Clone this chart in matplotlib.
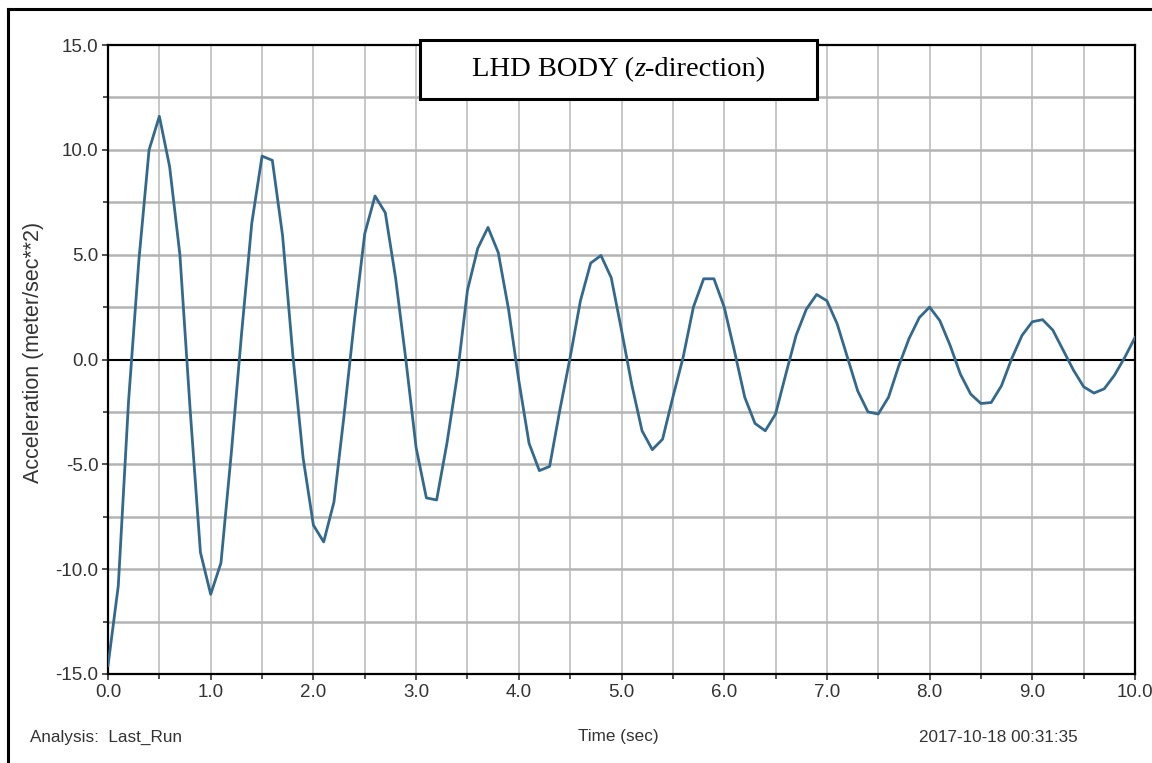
import matplotlib
matplotlib.use("Agg")
import matplotlib.pyplot as plt
from matplotlib.patches import Rectangle
from matplotlib.lines import Line2D

# ---- data ----
time_s = [round(0.1 * i, 1) for i in range(101)]
accel = [
    -14.6, -10.8, -2.0, 4.7, 10.0, 11.6, 9.2, 5.0, -2.4, -9.2,
    -11.2, -9.7, -4.5, 1.2, 6.5, 9.7, 9.5, 5.9, 0.2, -4.7,
    -7.9, -8.7, -6.8, -2.6, 1.9, 6.0, 7.8, 7.0, 3.9, 0.0,
    -4.2, -6.6, -6.7, -4.0, -0.8, 3.3, 5.3, 6.3, 5.1, 2.4,
    -1.0, -4.0, -5.3, -5.1, -2.4, 0.1, 2.8, 4.6, 4.96, 3.9,
    1.4, -1.2, -3.4, -4.3, -3.8, -1.8, 0.1, 2.5, 3.85, 3.85,
    2.5, 0.4, -1.8, -3.05, -3.4, -2.6, -0.7, 1.15, 2.4, 3.1,
    2.8, 1.7, 0.1, -1.5, -2.5, -2.6, -1.8, -0.3, 1.0, 2.0,
    2.5, 1.85, 0.67, -0.7, -1.65, -2.1, -2.05, -1.25, 0.05, 1.15,
    1.8, 1.9, 1.4, 0.45, -0.5, -1.3, -1.6, -1.4, -0.75, 0.1,
    1.05,
]
x_major = [0.0, 1.0, 2.0, 3.0, 4.0, 5.0, 6.0, 7.0, 8.0, 9.0, 10.0]
x_labels = ["0.0", "1.0", "2.0", "3.0", "4.0", "5.0", "6.0", "7.0", "8.0", "9.0", "10.0"]
y_major = [-15.0, -10.0, -5.0, 0.0, 5.0, 10.0, 15.0]
y_labels = ["-15.0", "-10.0", "-5.0", "0.0", "5.0", "10.0", "15.0"]
title_parts = ["LHD BODY (", "z", "-direction)"]
ylabel_text = "Acceleration (meter/sec**2)"
xlabel_text = "Time (sec)"
analysis_text = "Analysis:  Last_Run"
stamp_text = "2017-10-18 00:31:35"

W, H = 1152, 763
fig = plt.figure(figsize=(W / 100, H / 100), dpi=100)
fig.patch.set_facecolor("white")

sans = ["Liberation Sans", "DejaVu Sans"]
txt_col = "#333333"

ax_l, ax_r, ax_t, ax_b = 108, 1135, 45, 674
ax = fig.add_axes([ax_l / W, 1 - ax_b / H, (ax_r - ax_l) / W, (ax_b - ax_t) / H])
ax.set_xlim(0, 10)
ax.set_ylim(-15, 15)

# grid
for gx in [0.5 * i for i in range(1, 20)]:
    ax.axvline(gx, color="#b8b8b8", lw=1.1, zorder=1)
for gy in [2.5 * i for i in range(-5, 6)]:
    if gy == 0:
        continue
    ax.axhline(gy, color="#b4b4b4", lw=1.8, zorder=1)
ax.axhline(0, color="black", lw=1.5, zorder=2)

ax.plot(time_s, accel, color="#33698d", lw=2.0, zorder=3)

for s in ax.spines.values():
    s.set_color("black")
    s.set_linewidth(1.6)

ax.set_xticks(x_major)
ax.set_xticklabels(x_labels)
ax.set_xticks([0.5 + i for i in range(10)], minor=True)
ax.set_yticks(y_major)
ax.set_yticklabels(y_labels)
ax.set_yticks([-12.5, -7.5, -2.5, 2.5, 7.5, 12.5], minor=True)
ax.tick_params(axis="both", which="both", direction="out", length=4, width=1.2,
               colors=txt_col, labelcolor=txt_col, labelsize=13.5, pad=3)
ax.tick_params(axis="both", which="minor", length=3.5)
for lab in ax.get_xticklabels() + ax.get_yticklabels():
    lab.set_fontfamily(sans)

# title box
bx0, bx1, by0, by1 = 420, 817, 40, 99
fig.patches.append(Rectangle((bx0 / W, 1 - by1 / H), (bx1 - bx0) / W, (by1 - by0) / H,
                             transform=fig.transFigure, facecolor="white",
                             edgecolor="black", lw=2.2, zorder=10))
renderer = fig.canvas.get_renderer()
styles = ["normal", "italic", "normal"]
pieces = []
for part, st in zip(title_parts, styles):
    t = fig.text(0, 1 - (by0 + by1) / 2 / H, part, ha="left", va="center",
                 fontsize=20.5, family="Liberation Serif", style=st, zorder=11)
    pieces.append(t)
widths = [p.get_window_extent(renderer).width for p in pieces]
total = sum(widths)
xcur = (bx0 + bx1) / 2 - total / 2
for p, w in zip(pieces, widths):
    p.set_x(xcur / W)
    xcur += w

# axis labels / footer
fig.text(34 / W, 1 - 352 / H, ylabel_text, rotation=90, ha="center", va="center",
         fontsize=15.5, family=sans, color=txt_col)
fig.text(618 / W, 1 - 737 / H, xlabel_text, ha="center", va="center",
         fontsize=12.3, family=sans, color=txt_col)
fig.text(30 / W, 1 - 737 / H, analysis_text, ha="left", va="center",
         fontsize=12.3, family=sans, color=txt_col)
fig.text(998 / W, 1 - 737 / H, stamp_text, ha="center", va="center",
         fontsize=12.3, family=sans, color=txt_col)

# outer frame (left and top edges)
fig.lines.append(Line2D([8 / W, 8 / W], [0, 1 - 9 / H], transform=fig.transFigure,
                        color="black", lw=2.2))
fig.lines.append(Line2D([8 / W, 1], [1 - 9 / H, 1 - 9 / H], transform=fig.transFigure,
                        color="black", lw=2.2))

fig.savefig("out.png", dpi=100)
